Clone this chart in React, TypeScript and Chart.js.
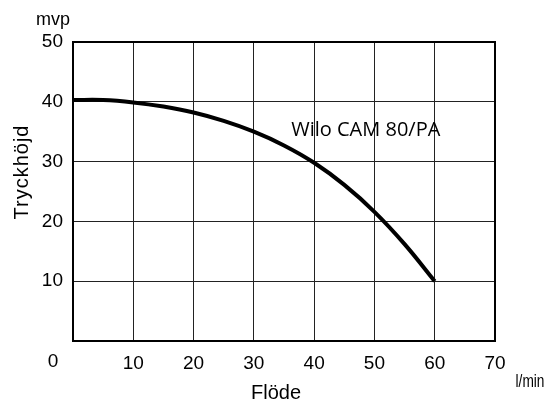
import React, { useEffect, useRef } from "react";
import { Chart, registerables } from "chart.js";

Chart.register(...registerables);

const flowValues = [0, 5, 10, 15, 20, 25, 30, 35, 40, 45, 50, 55, 60];
const headValues = [40.3, 40.3, 39.9, 39.2, 38.2, 36.8, 35.0, 32.7, 29.8, 26.1, 21.6, 16.2, 10.0];
const seriesLabel = "Wilo CAM 80/PA";
const xTitle = "Flöde";
const yTitle = "Tryckhöjd";
const xUnit = "l/min";
const yUnit = "mvp";

const FONT = "'Liberation Sans', Arial, sans-serif";

export default function App() {
  const ref = useRef<HTMLCanvasElement>(null);

  useEffect(() => {
    document.body.style.margin = "0";
    const canvas = ref.current!;
    const overlay = {
      id: "overlay",
      afterDraw(chart: any) {
        const ctx = chart.ctx;
        const xs = chart.scales.x;
        const ys = chart.scales.y;
        const a = chart.chartArea;
        ctx.save();
        ctx.strokeStyle = "#000";
        ctx.lineWidth = 2;
        ctx.strokeRect(a.left, a.top, a.right - a.left, a.bottom - a.top);
        ctx.fillStyle = "#000";
        ctx.font = `19px ${FONT}`;
        ctx.textAlign = "center";
        ctx.textBaseline = "middle";
        ctx.fillText("0", 53, 362);
        ctx.textBaseline = "alphabetic";
        ctx.font = `18px ${FONT}`;
        ctx.fillText(yUnit, 53, 25);
        ctx.save();
        ctx.translate(530, 387);
        ctx.scale(0.72, 1);
        ctx.font = `19px ${FONT}`;
        ctx.fillText(xUnit, 0, 0);
        ctx.restore();
        ctx.font = `20px ${FONT}`;
        ctx.fillText(xTitle, 276, 399);
        ctx.save();
        ctx.translate(28, 172);
        ctx.rotate(-Math.PI / 2);
        (ctx as any).letterSpacing = "1px";
        ctx.fillText(yTitle, 0, 0);
        ctx.restore();
        ctx.font = `20px 'Open Sans', sans-serif`;
        ctx.textAlign = "left";
        ctx.textBaseline = "middle";
        ctx.fillText(seriesLabel, xs.getPixelForValue(36.2), ys.getPixelForValue(35.3));
        ctx.restore();
      },
    };
    const chart = new Chart(canvas, {
      type: "line",
      data: {
        datasets: [
          {
            label: seriesLabel,
            data: flowValues.map((x, i) => ({ x, y: headValues[i] })),
            borderColor: "#000",
            borderWidth: 4,
            pointRadius: 0,
            tension: 0.4,
            fill: false,
          },
        ],
      },
      plugins: [overlay],
      options: {
        animation: false,
        responsive: false,
        layout: { padding: { left: 0, top: 42, right: 53, bottom: 0 } },
        plugins: { legend: { display: false }, tooltip: { enabled: false } },
        scales: {
          x: {
            type: "linear",
            min: 0,
            max: 70,
            ticks: {
              stepSize: 10,
              color: "#000",
              font: { family: FONT, size: 19 },
              padding: 11,
              maxRotation: 0,
              callback: (v: any) => (v === 0 ? "" : String(v)),
            },
            grid: { color: "#222", lineWidth: 1, drawTicks: false },
            border: { color: "#000", width: 2 },
            afterFit: (s: any) => {
              s.height = 62;
            },
          },
          y: {
            min: 0,
            max: 50,
            ticks: {
              stepSize: 10,
              color: "#000",
              font: { family: FONT, size: 19 },
              padding: 10,
              callback: (v: any) => (v === 0 ? "" : String(v)),
            },
            grid: { color: "#222", lineWidth: 1, drawTicks: false },
            border: { color: "#000", width: 2 },
            afterFit: (s: any) => {
              s.width = 73;
            },
          },
        },
      },
    } as any);
    return () => chart.destroy();
  }, []);

  return (
    <div style={{ width: 548, height: 403 }}>
      <canvas ref={ref} width={548} height={403} style={{ display: "block" }} />
    </div>
  );
}
